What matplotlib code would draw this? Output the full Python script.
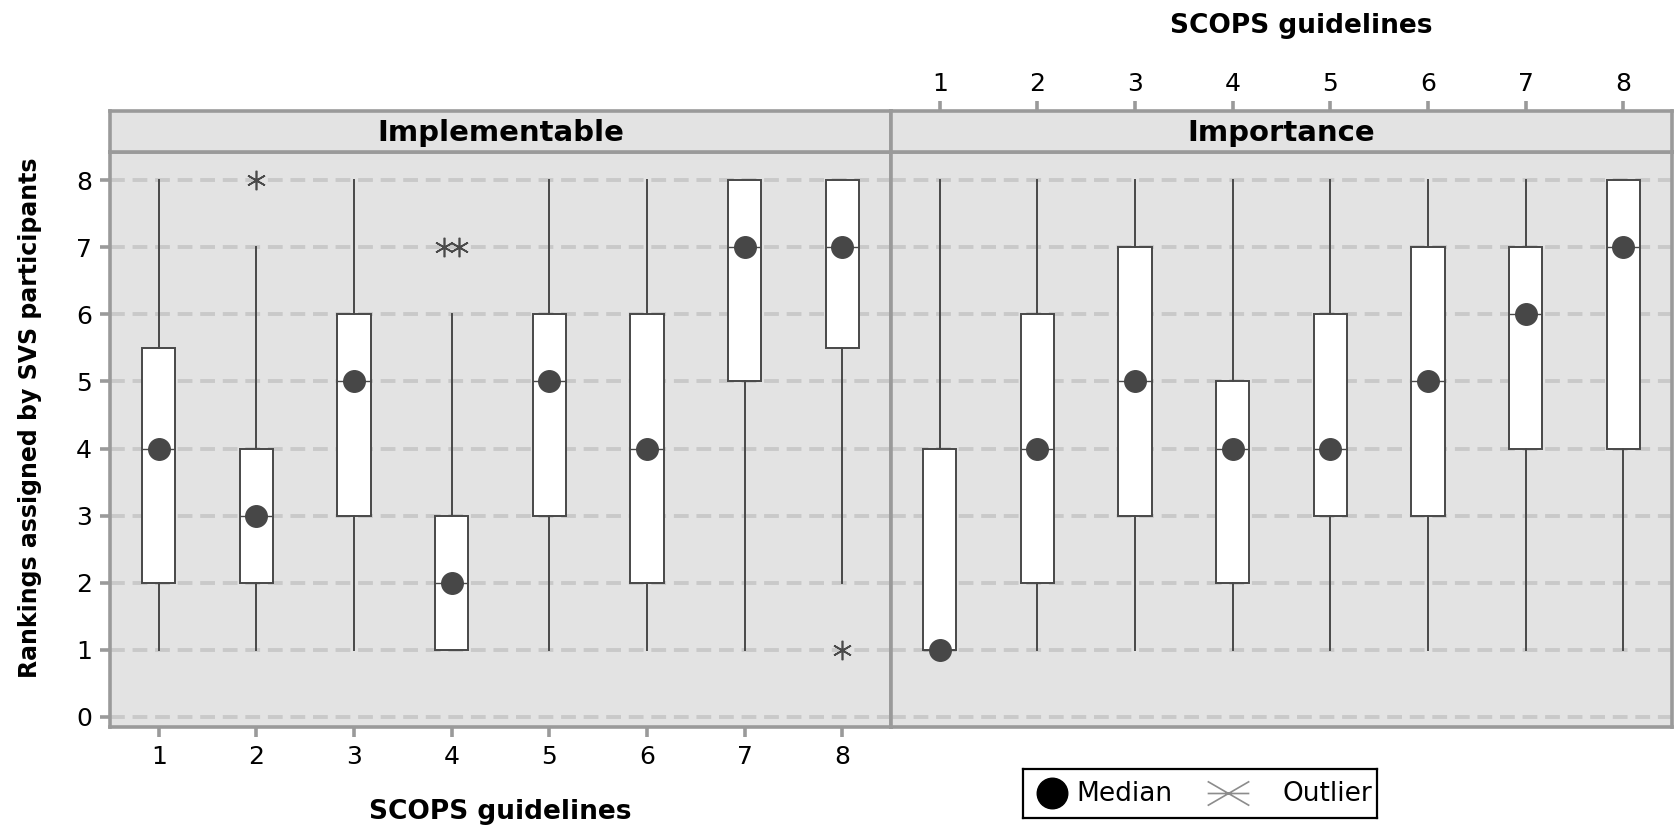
import matplotlib
matplotlib.use('Agg')
import matplotlib.pyplot as plt
from matplotlib.patches import Rectangle
from matplotlib.lines import Line2D
from matplotlib.path import Path

# ---------------- data ----------------
categories = [1, 2, 3, 4, 5, 6, 7, 8]
panel_names = ["Implementable", "Importance"]

impl_whislo = [1, 1, 1, 1, 1, 1, 1, 2]
impl_q1     = [2, 2, 3, 1, 3, 2, 5, 5.5]
impl_med    = [4, 3, 5, 2, 5, 4, 7, 7]
impl_q3     = [5.5, 4, 6, 3, 6, 6, 8, 8]
impl_whishi = [8, 7, 8, 6, 8, 8, 8, 8]
impl_outliers = {2: [8], 4: [7, 7], 8: [1]}

imp_whislo = [1, 1, 1, 1, 1, 1, 1, 1]
imp_q1     = [1, 2, 3, 2, 3, 3, 4, 4]
imp_med    = [1, 4, 5, 4, 4, 5, 6, 7]
imp_q3     = [4, 6, 7, 5, 6, 7, 7, 8]
imp_whishi = [8, 8, 8, 8, 8, 8, 8, 8]
imp_outliers = {}

y_ticks = [0, 1, 2, 3, 4, 5, 6, 7, 8]
x_label = "SCOPS guidelines"
y_label = "Rankings assigned by SVS participants"

# ---------------- style ----------------
W, H = 1677, 833
FONT = "DejaVu Sans"
plt.rcParams['font.family'] = [FONT]
BG = "#e3e3e3"
FRAME = "#9a9a9a"
GRID = "#c9c9c9"
BOXC = "#484848"
DOT = "#474747"

fig = plt.figure(figsize=(W / 100, H / 100), dpi=100)


def px(x0, y0, x1, y1):
    return [x0 / W, 1 - y1 / H, (x1 - x0) / W, (y1 - y0) / H]


panel_x = [(110, 891), (891, 1672)]
strip_top, strip_bot, plot_bot = 111, 152, 727
y0_px, y8_px = 717, 180
unit = (y0_px - y8_px) / 8.0
ymin = -(plot_bot - y0_px) / unit
ymax = 8 + (y8_px - strip_bot) / unit

datasets = [
    (impl_whislo, impl_q1, impl_med, impl_q3, impl_whishi, impl_outliers),
    (imp_whislo, imp_q1, imp_med, imp_q3, imp_whishi, imp_outliers),
]

ast_vert = (6, 2, 0)

for i, ((xa, xb), name, ds) in enumerate(zip(panel_x, panel_names, datasets)):
    wlo, q1, med, q3, whi, outl = ds
    ax = fig.add_axes(px(xa, strip_bot, xb, plot_bot))
    ax.set_facecolor(BG)
    ax.set_xlim(0.5, 8.5)
    ax.set_ylim(ymin, ymax)
    for yv in y_ticks:
        ax.axhline(yv, color=GRID, lw=2.8, ls=(0, (3.8, 2.0)), zorder=1)
    stats = []
    for k in range(len(categories)):
        stats.append(dict(whislo=wlo[k], q1=q1[k], med=med[k], q3=q3[k],
                          whishi=whi[k], fliers=[]))
    ax.bxp(stats, positions=categories, widths=0.34, patch_artist=True,
           showcaps=False, showfliers=False,
           boxprops=dict(facecolor="white", edgecolor=BOXC, linewidth=1.4),
           whiskerprops=dict(color=BOXC, linewidth=1.4),
           medianprops=dict(color=BOXC, linewidth=1.0),
           manage_ticks=False, zorder=3)
    ax.plot(categories, med, 'o', ms=15.5, color=DOT, zorder=5)
    for c, vals in outl.items():
        n = len(vals)
        offs = [0.0] if n == 1 else [-0.077, 0.077]
        for o, v in zip(offs, vals):
            ax.plot(c + o, v, marker=ast_vert, ms=14, mew=1.2, color="#4a4a4a",
                    ls='none', zorder=5)
    for s in ax.spines.values():
        s.set_color(FRAME)
        s.set_linewidth(2.6)
    if i == 0:
        ax.set_yticks(y_ticks)
        ax.set_yticklabels([str(v) for v in y_ticks], fontsize=18)
        ax.set_xticks(categories)
        ax.set_xticklabels([str(c) for c in categories], fontsize=18)
        ax.tick_params(axis='both', color=FRAME, width=2.6, length=7, pad=6)
    else:
        ax.set_yticks([])
        ax.set_xticks([])

    sax = fig.add_axes(px(xa, strip_top, xb, strip_bot))
    sax.set_facecolor(BG)
    sax.set_xlim(0.5, 8.5)
    sax.set_ylim(0, 1)
    sax.set_yticks([])
    for s in sax.spines.values():
        s.set_color(FRAME)
        s.set_linewidth(2.6)
    sax.text(0.5, 0.47, name, transform=sax.transAxes, ha='center',
             va='center', fontsize=21, fontweight='bold')
    if i == 1:
        sax.xaxis.set_ticks_position('top')
        sax.set_xticks(categories)
        sax.set_xticklabels([str(c) for c in categories], fontsize=18)
        sax.tick_params(axis='x', color=FRAME, width=2.6, length=7, pad=4)
    else:
        sax.set_xticks([])

# axis titles
fig.text(500 / W, 1 - 812 / H, x_label, ha='center', va='center',
         fontsize=19, fontweight='bold')
fig.text(1301 / W, 1 - 26 / H, x_label, ha='center', va='center',
         fontsize=19, fontweight='bold')
fig.text(30 / W, 1 - 418 / H, y_label, ha='center', va='center',
         rotation=90, fontsize=17, fontweight='bold')

# legend
lax = fig.add_axes(px(1023, 769, 1377, 818))
lax.set_xlim(1023, 1377)
lax.set_ylim(818, 769)
lax.set_xticks([])
lax.set_yticks([])
for s in lax.spines.values():
    s.set_color("black")
    s.set_linewidth(1.6)
lax.plot([1052], [793], 'o', ms=22, color="black")
lax.text(1076, 794, "Median", ha='left', va='center', fontsize=19)
xmark = Path([(-1, 0), (1, 0), (-1, -0.58), (1, 0.58), (-1, 0.58), (1, -0.58)],
             [Path.MOVETO, Path.LINETO, Path.MOVETO, Path.LINETO,
              Path.MOVETO, Path.LINETO])
lax.plot([1228], [793], marker=xmark, ms=30, mew=1.2, color="#8c8c8c",
         ls='none')
lax.text(1372, 794, "Outlier", ha='right', va='center', fontsize=19)

fig.savefig("out.png", dpi=100)
